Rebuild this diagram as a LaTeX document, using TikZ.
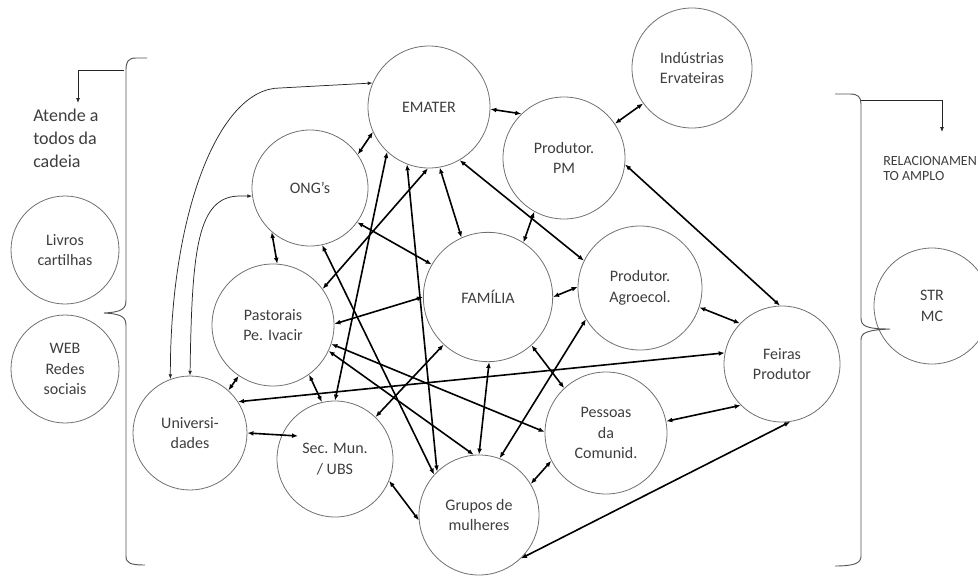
\documentclass[tikz,border=0pt]{standalone}
\usepackage{fontspec}
\setmainfont{Carlito}
\usepackage{tikz}
\usetikzlibrary{arrows.meta,positioning}
\definecolor{circgray}{RGB}{112,112,112}
\definecolor{txtgray}{RGB}{62,62,62}
\definecolor{bracegray}{RGB}{85,85,85}

\tikzset{
  ator/.style={circle,draw=circgray,line width=0.6pt,text=txtgray,align=center,
               inner sep=0pt,minimum size=90pt,font=\fontsize{12}{15.5}\selectfont},
  liga/.style={{Latex[length=4.5pt,width=3.6pt]}-{Latex[length=4.5pt,width=3.6pt]},line width=1.2pt},
  fino/.style={{Latex[length=3.6pt,width=2.8pt]}-{Latex[length=3.6pt,width=2.8pt]},line width=0.55pt,draw=black!85},
  seta/.style={-{Latex[length=3.6pt,width=2.8pt]},line width=0.55pt,draw=black!85},
  chave/.style={draw=bracegray,line width=0.7pt},
}

\begin{document}
\begin{tikzpicture}[x=0.75pt,y=-0.75pt]
  \useasboundingbox (0,0) rectangle (978,582);
  \clip (0,0) rectangle (978,582);

  % actors
  \node[ator,minimum size=91.5pt] (ematr)   at (429,107) {EMATER};
  \node[ator,minimum size=91.5pt] (prodpm)  at (564,158) {Produtor.\\PM};
  \node[ator]                     (indus)   at (692,68)  {Indústrias\\Ervateiras};
  \node[ator,minimum size=87pt]   (ongs)    at (310,188) {ONG’s};
  \node[ator,minimum size=91.5pt] (past)    at (273,325) {Pastorais\\Pe. Ivacir};
  \node[ator,minimum size=97pt]   (fam)     at (488,297) {FAMÍLIA};
  \node[ator,minimum size=93pt]   (agro)    at (640,288) {Produtor.\\Agroecol.};
  \node[ator,minimum size=87pt]   (feiras)  at (782,364) {Feiras\\Produtor};
  \node[ator,minimum size=91.5pt] (pessoas) at (606,433) {Pessoas\\da\\Comunid.};
  \node[ator]                     (grupos)  at (479,515) {Grupos de\\mulheres};
  \node[ator,minimum size=87pt]   (secmun)  at (335,459) {Sec. Mun.\\/ UBS};
  \node[ator,minimum size=85.5pt] (univ)    at (190,433) {Universi-\\dades};
  \node[ator,minimum size=81pt]   (livros)  at (65,250)  {Livros\\cartilhas};
  \node[ator,minimum size=81pt]   (web)     at (65,369)  {WEB\\Redes\\sociais};
  \node[ator,minimum size=87pt]   (str)     at (932,306) {STR\\MC};
  \coordinate (secin) at (298,436);

  % side notes
  \node[anchor=north west,align=left,text=txtgray,inner sep=0pt,
        font=\fontsize{13.5}{17.3}\selectfont] (atende) at (33,109)
        {Atende a\\todos da\\cadeia};
  \node[anchor=north west,align=left,text=txtgray,inner sep=0pt,
        font=\fontsize{10.5}{11.3}\selectfont] (relac) at (883,156)
        {RELACIONAMEN\\TO AMPLO};

  % braces
  \draw[chave] (147,58) -- (136,58) .. controls (128,58) and (126,62) .. (126,70)
    -- (126,300) .. controls (126,309) and (122,312) .. (104,313)
    .. controls (122,314) and (126,317) .. (126,326)
    -- (126,556) .. controls (126,563) and (130,565) .. (145,565);
  \draw[chave] (835,94) -- (850,94) .. controls (858,94) and (861,97) .. (861,104)
    -- (861,318) .. controls (861,326) and (866,329) .. (890,329)
    .. controls (866,330) and (861,333) .. (861,340)
    -- (861,556) .. controls (861,563) and (855,566) .. (835,566);
  \coordinate (lbr) at (124,70);
  \coordinate (lseta) at (78,103);
  \coordinate (rbr) at (861,100);
  \coordinate (rseta) at (942,132);
  \draw[seta] (lbr) -| (lseta);
  \draw[seta] (rbr) -| (rseta);

  % thin curved links
  \draw[fino] (univ.110) .. controls (170,216) and (218,88) .. (280,88) -- (ematr.157);
  \draw[fino] (univ.90) .. controls (192,250) and (197,196) .. (240,196) -- (ongs.-172);

  % links
  \draw[liga] (ematr.-2) -- (prodpm.134);
  \draw[liga] (indus.-144) -- (prodpm.34);
  \draw[liga] (ematr.-156) -- (ongs.35);
  \draw[liga] (ongs.-131) -- (past.86);
  \draw[liga] (ematr.-80) -- (fam.114);
  \draw[liga] (ematr.-60) -- (agro.154);
  \draw[liga] (prodpm.-119) -- (fam.57);
  \draw[liga] (prodpm.-6) -- (feiras.92);
  \draw[liga] (ongs.-36) -- (fam.150);
  \draw[liga] (ongs.-78) -- (grupos.138);
  \draw[liga] (ematr.-111) -- (grupos.134);
  \draw[liga] (past.-25) -- (grupos.95);
  \draw[liga] (past.-18) -- (pessoas.179);
  \draw[liga] (fam.-89) -- (grupos.90);
  \draw[liga] (agro.-150) -- (grupos.70);
  \draw[liga] (pessoas.-153) -- (grupos.31);
  \draw[liga] (feiras.-82) -- (grupos.-46);
  \draw[liga] (secmun.-22) -- (grupos.-175);
  \draw[liga] (past.-54) -- (secmun.103);
  \draw[liga] (ematr.-133) -- (secmun.90);
  \draw[liga] (ematr.-91) -- (past.36);
  \draw[liga] (fam.-133) -- (secmun.46);
  \draw[liga] (univ.0) -- (secin);
  \draw[liga] (past.-124) -- (univ.48);
  \draw[liga] (feiras.169) -- (univ.33);
  \draw[liga] (fam.180) -- (past.1);
  \draw[liga] (fam.0) -- (agro.179);
  \draw[liga] (fam.-48) -- (pessoas.133);
  \draw[liga] (agro.-18) -- (feiras.136);
  \draw[liga] (pessoas.11) -- (feiras.-135);
\end{tikzpicture}
\end{document}
